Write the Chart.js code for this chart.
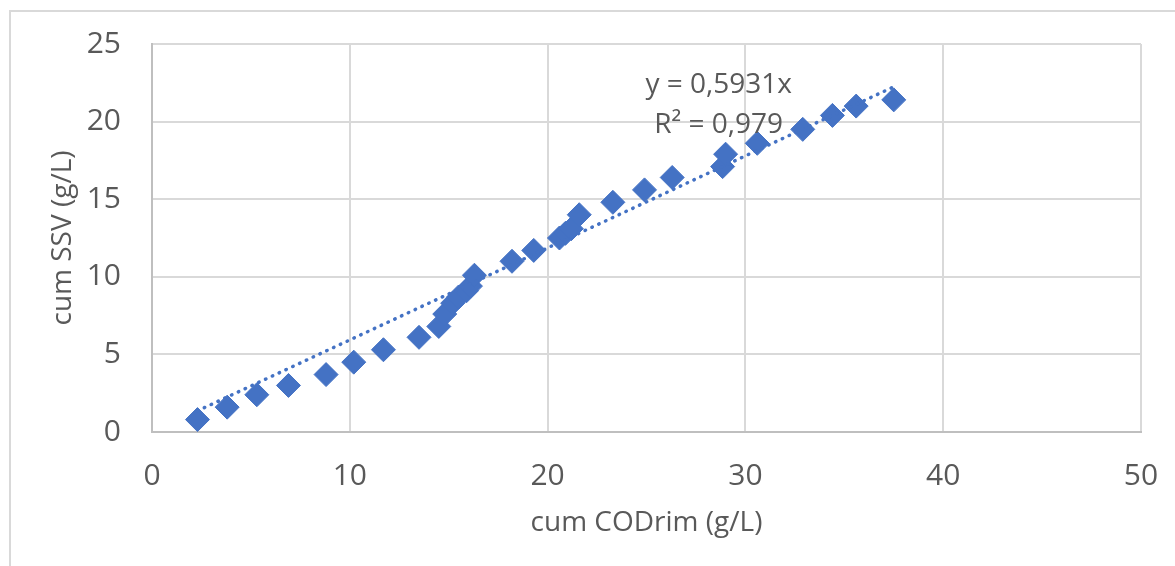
<!DOCTYPE html>
<html>
<head>
<meta charset="utf-8">
<script src="https://cdn.jsdelivr.net/npm/chart.js@4/dist/chart.umd.min.js"></script>
<style>
  html, body { margin: 0; padding: 0; background: #fff; }
  #wrap { position: relative; width: 1175px; height: 566px; overflow: hidden; }
  #frame { position: absolute; left: 9px; top: 10px; width: 1200px; height: 600px;
           border-left: 2px solid #d9d9d9; border-top: 2px solid #d9d9d9; box-sizing: border-box; }
  canvas { position: absolute; left: 0; top: 0; }
</style>
</head>
<body>
<div id="wrap">
  <div id="frame"></div>
  <canvas id="c" width="1175" height="566"></canvas>
</div>
<script>
// ---- data ----
const cumCODrim = [2.3, 3.8, 5.3, 6.9, 8.8, 10.2, 11.7, 13.5, 14.5, 14.8, 15.2, 15.5, 15.9, 16.1, 16.3,
                   18.2, 19.3, 20.6, 20.9, 21.2, 21.6, 23.3, 24.9, 26.3, 28.85, 29.0, 30.6, 32.9, 34.4, 35.6, 37.5];
const cumSSV    = [0.8, 1.6, 2.4, 3.0, 3.7, 4.5, 5.3, 6.1, 6.8, 7.6, 8.3, 8.7, 9.1, 9.4, 10.1,
                   11.0, 11.7, 12.5, 12.8, 13.1, 14.0, 14.8, 15.6, 16.4, 17.1, 17.9, 18.6, 19.5, 20.4, 21.0, 21.4];
const slope = 0.5931;
const rSquared = "0,979";
const equationLines = ["y = 0,5931x", "R\u00B2 = " + rSquared];
const xTicks = [0, 10, 20, 30, 40, 50];
const yTicks = [0, 5, 10, 15, 20, 25];
const xTitle = "cum CODrim (g/L)";
const yTitle = "cum SSV (g/L)";

const points = cumCODrim.map((x, i) => ({ x: x, y: cumSSV[i] }));
const xMin = Math.min(...cumCODrim), xMax = Math.max(...cumCODrim);
const trend = [{ x: xMin, y: slope * xMin }, { x: xMax, y: slope * xMax }];

const TEXT = '#595959';
const FONT = '"Open Sans", "Liberation Sans", sans-serif';

const labelPlugin = {
  id: 'eqLabel',
  afterDatasetsDraw(chart) {
    const ctx = chart.ctx;
    const xs = chart.scales.x, ys = chart.scales.y;
    ctx.save();
    ctx.fillStyle = TEXT;
    ctx.font = '28px ' + FONT;
    ctx.textAlign = 'center';
    ctx.textBaseline = 'middle';
    const cx = xs.getPixelForValue(28.65);
    ctx.fillText(equationLines[0], cx, ys.getPixelForValue(22.33));
    ctx.fillText(equationLines[1], cx, ys.getPixelForValue(19.8));
    ctx.restore();
  }
};

function noOverhang(s) {
  s.paddingLeft = 0; s.paddingRight = 0; s.paddingTop = 0; s.paddingBottom = 0;
}

new Chart(document.getElementById('c'), {
  type: 'scatter',
  data: {
    datasets: [
      {
        label: 'trend',
        type: 'line',
        data: trend,
        borderColor: '#4472C4',
        borderWidth: 3.5,
        borderDash: [0.5, 7],
        borderCapStyle: 'round',
        pointRadius: 0,
        fill: false,
        order: 0
      },
      {
        label: 'data',
        data: points,
        pointStyle: 'rectRot',
        pointRadius: 12,
        pointBackgroundColor: '#4472C4',
        pointBorderColor: '#4472C4',
        pointBorderWidth: 1,
        order: 1
      }
    ]
  },
  options: {
    responsive: false,
    devicePixelRatio: 1,
    animation: false,
    events: [],
    layout: { padding: { top: 44, right: 34, left: 0, bottom: 0 } },
    plugins: { legend: { display: false }, tooltip: { enabled: false } },
    scales: {
      x: {
        type: 'linear', min: 0, max: 50,
        afterBuildTicks(s) { s.ticks = xTicks.map(v => ({ value: v })); },
        ticks: { color: TEXT, font: { family: FONT, size: 30 }, padding: 26 },
        grid: { color: '#d9d9d9', lineWidth: 2, drawTicks: false },
        border: { color: '#bfbfbf', width: 2 },
        title: { display: true, text: xTitle, color: TEXT, font: { family: FONT, size: 28 }, padding: 26 },
        afterFit(s) { s.height = 134; noOverhang(s); }
      },
      y: {
        type: 'linear', min: 0, max: 25,
        afterBuildTicks(s) { s.ticks = yTicks.map(v => ({ value: v })); },
        ticks: { color: TEXT, font: { family: FONT, size: 30 }, padding: 31 },
        grid: { color: '#d9d9d9', lineWidth: 2, drawTicks: false },
        border: { color: '#bfbfbf', width: 2 },
        title: { display: true, text: yTitle, color: TEXT, font: { family: FONT, size: 28 }, padding: 46 },
        afterFit(s) { s.width = 152; noOverhang(s); }
      }
    }
  },
  plugins: [labelPlugin]
});
</script>
</body>
</html>
